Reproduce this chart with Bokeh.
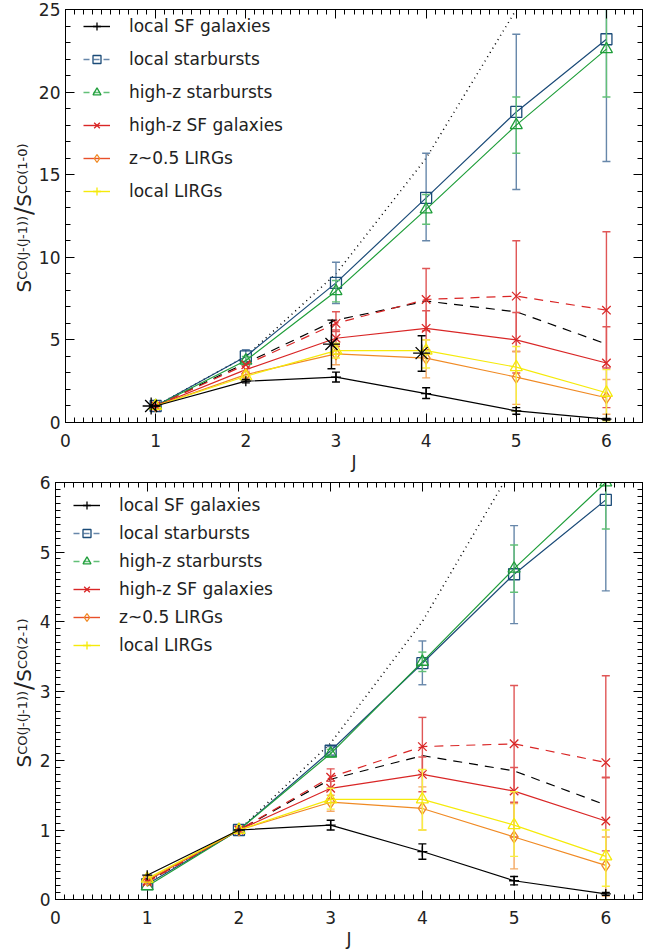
import math
from bokeh.plotting import figure
from bokeh.models import (Range1d, SingleIntervalTicker, LinearAxis, Legend,
                          LegendItem, CustomJSTickFormatter)
from bokeh.core.properties import value
from bokeh.layouts import column, row
from bokeh.embed import file_html
from bokeh.resources import INLINE

NAN = float("nan")
J = [1, 2, 3, 4, 5, 6]
J_STAR = [0.95, 2.95, 3.95]

# ---------------- top panel: S_CO(J-(J-1)) / S_CO(1-0) ----------------
thermal_10 = [1, 4, 9, 16, 25, 36]
model_10 = [1.0, 3.6, 6.2, 7.35, 6.7, 4.75]

local_sf_10 = [1.0, 2.5, 2.75, 1.75, 0.7, 0.2]
local_sf_10_lo = [NAN, 2.4, 2.45, 1.45, 0.5, 0.15]
local_sf_10_hi = [NAN, 2.6, 3.05, 2.1, 0.9, 0.25]

local_sb_10 = [1.0, 4.0, 8.45, 13.6, 18.8, 23.2]
local_sb_10_lo = [NAN, 3.7, 7.2, 11.0, 14.1, 15.8]
local_sb_10_hi = [NAN, 4.4, 9.7, 16.3, 23.5, 30.0]

highz_sb_10 = [1.0, 3.75, 7.95, 12.9, 18.0, 22.6]
highz_sb_10_lo = [NAN, 3.5, 7.3, 12.0, 16.3, 19.7]
highz_sb_10_hi = [NAN, 4.0, 8.6, 13.8, 19.7, 30.0]

highz_sf_10 = [1.0, 3.2, 5.1, 5.7, 5.0, 3.6]
highz_sf_10_lo = [NAN, NAN, 4.6, 4.4, 3.0, 0.9]
highz_sf_10_hi = [NAN, NAN, 5.6, 6.76, 6.66, 5.8]

highz_sf2_10 = [1.0, 3.5, 6.0, 7.45, 7.65, 6.8]
highz_sf2_10_lo = [NAN, NAN, 5.5, 5.56, 4.3, 3.3]
highz_sf2_10_hi = [NAN, NAN, 6.7, 9.32, 11.0, 11.55]

lirg05_10 = [1.0, 2.9, 4.15, 3.9, 2.75, 1.5]
lirg05_10_lo = [NAN, 2.7, 3.5, 2.7, 1.1, 0.5]
lirg05_10_hi = [NAN, 3.1, 4.7, 5.0, 4.3, 2.6]

local_lirg_10 = [1.0, 2.8, 4.35, 4.35, 3.35, 1.8]
local_lirg_10_lo = [NAN, NAN, 3.9, 3.3, 0.7, 0.1]
local_lirg_10_hi = [NAN, NAN, 4.8, 5.0, 4.6, 3.2]

star_10 = [1.0, 4.75, 4.2]
star_10_lo = [NAN, 3.25, 3.1]
star_10_hi = [NAN, 6.2, 5.25]

# ---------------- bottom panel: S_CO(J-(J-1)) / S_CO(2-1) ----------------
thermal_21 = [0.25, 1, 2.25, 4, 6.25, 9]
model_21 = [0.26, 1.0, 1.73, 2.07, 1.85, 1.36]

local_sf_21 = [0.35, 1.0, 1.07, 0.69, 0.27, 0.08]
local_sf_21_lo = [NAN, NAN, 1.0, 0.58, 0.21, 0.06]
local_sf_21_hi = [NAN, NAN, 1.14, 0.8, 0.33, 0.1]

local_sb_21 = [0.22, 1.0, 2.14, 3.4, 4.68, 5.75]
local_sb_21_lo = [NAN, NAN, 2.08, 3.09, 3.97, 4.44]
local_sb_21_hi = [NAN, NAN, 2.2, 3.72, 5.38, 7.0]

highz_sb_21 = [0.19, 1.0, 2.1, 3.42, 4.76, 6.0]
highz_sb_21_lo = [NAN, NAN, 2.05, 3.28, 4.42, 5.33]
highz_sb_21_hi = [NAN, NAN, 2.16, 3.56, 5.1, 6.7]

highz_sf_21 = [0.27, 1.0, 1.6, 1.8, 1.56, 1.13]
highz_sf_21_lo = [NAN, NAN, 1.45, 1.55, 0.9, 0.7]
highz_sf_21_hi = [NAN, NAN, 1.7, 2.05, 1.9, 1.75]

highz_sf2_21 = [0.25, 1.0, 1.76, 2.2, 2.24, 1.97]
highz_sf2_21_lo = [NAN, NAN, 1.6, 1.8, 1.4, 1.76]
highz_sf2_21_hi = [NAN, NAN, 1.88, 2.62, 3.08, 3.22]

lirg05_21 = [0.28, 1.0, 1.4, 1.31, 0.9, 0.49]
lirg05_21_lo = [NAN, NAN, 1.27, 1.0, 0.44, 0.05]
lirg05_21_hi = [NAN, NAN, 1.5, 1.62, 1.38, 0.9]

local_lirg_21 = [0.3, 1.0, 1.44, 1.44, 1.07, 0.62]
local_lirg_21_lo = [NAN, NAN, 1.3, 1.0, 0.62, 0.19]
local_lirg_21_hi = [NAN, NAN, 1.6, 1.87, 1.55, 1.0]

legend_labels = ["local SF galaxies", "local starbursts", "high-z starbursts",
                 "high-z SF galaxies", "z~0.5 LIRGs", "local LIRGs"]

BLACK = "#000000"
BLUE = "#1b4b78"
GREEN = "#1f9e3a"
RED = "#d92626"
ORANGE = "#f08a24"
YELLOW = "#f5ea0a"
BLUE_E = "#6787aa"
GREEN_E = "#62c077"
RED_E = "#e05656"
ORANGE_E = "#f4a862"
YELLOW_E = "#f8ef40"
FONT = "DejaVu Sans"
TXT = "#222222"


def series(p, x, y, lo, hi, color, ecolor, marker, size, dash="solid", line=True):
    p.segment(x0=x, y0=lo, x1=x, y1=hi, line_color=ecolor, line_width=1.4)
    p.scatter(x, lo, marker="dash", size=8, line_color=ecolor, line_width=1.4)
    p.scatter(x, hi, marker="dash", size=8, line_color=ecolor, line_width=1.4)
    if line:
        p.line(x, y, line_color=color, line_width=1.2, line_dash=dash)
    p.scatter(x, y, marker=marker, size=size, line_color=color,
              fill_color=None, line_width=1.3)


def style_axes(p, yint, yminor):
    xt = SingleIntervalTicker(interval=1, num_minor_ticks=10)
    yt = SingleIntervalTicker(interval=yint, num_minor_ticks=yminor)
    p.xaxis.ticker = xt
    p.yaxis.ticker = yt
    for ax in (p.xaxis[0], p.yaxis[0]):
        ax.major_tick_in = 9
        ax.major_tick_out = 0
        ax.minor_tick_in = 5
        ax.minor_tick_out = 0
        ax.axis_line_color = "black"
        ax.major_tick_line_color = "black"
        ax.minor_tick_line_color = "black"
        ax.major_label_text_font = FONT
        ax.major_label_text_font_size = "17px"
        ax.major_label_text_color = TXT
    p.xaxis.major_label_standoff = 11
    p.yaxis.major_label_standoff = 5
    p.xaxis.axis_label = "J"
    p.xaxis.axis_label_text_font = FONT
    p.xaxis.axis_label_text_font_size = "17px"
    p.xaxis.axis_label_text_font_style = "normal"
    p.xaxis.axis_label_text_color = TXT
    p.xaxis.axis_label_standoff = 2
    for side, tk in (("above", xt), ("right", yt)):
        ax = LinearAxis(ticker=tk, formatter=CustomJSTickFormatter(code="return ''"),
                        major_tick_in=9, major_tick_out=0, minor_tick_in=5,
                        minor_tick_out=0, major_label_standoff=0,
                        axis_line_color="black")
        p.add_layout(ax, side)


def add_legend(p):
    specs = [(BLACK, "cross", "solid", 12), (BLUE, "square", "6 4", 11),
             (GREEN, "triangle", "6 4", 12), (RED, "x", "solid", 13),
             (ORANGE, "diamond", "solid", 12), (YELLOW, "cross", "solid", 12)]
    lcol = [BLACK, BLUE_E, GREEN_E, RED, "#e8502a", YELLOW]
    items = []
    for lab, (c, m, d, s), lc in zip(legend_labels, specs, lcol):
        r1 = p.line([-10, -9], [-10, -9], line_color=lc, line_dash=d, line_width=1.4)
        r2 = p.scatter([-10], [-10], marker=m, size=s, line_color=c,
                       fill_color=None, line_width=1.3)
        items.append(LegendItem(label=lab, renderers=[r1, r2]))
    return items


def label_fig(width, height, frame_top, frame_bottom, y_start, denom):
    # y range given in the canvas' own pixel rows (downwards), matching the
    # frame of the neighbouring plot, so the label pieces keep their spacing
    f = figure(width=width, height=height, output_backend="svg",
               toolbar_location=None, x_range=Range1d(0, width),
               y_range=Range1d(frame_bottom, frame_top), min_border=0,
               min_border_top=frame_top, min_border_bottom=height - frame_bottom,
               x_axis_type=None, y_axis_type=None)
    f.grid.visible = False
    f.outline_line_color = None
    pieces = [("S", 20, 0, 12.7), ("CO(J-(J-1))", 13, -1, 64.9),
              ("/", 24, 0, 8.1), ("S", 20, 0, 12.7), (denom, 13, -1, 50.7)]
    y = y_start
    for txt, fs, dx, w in pieces:
        f.text(x=[23 + dx], y=[y], text=[txt], angle=math.pi / 2,
               text_font=value(FONT), text_font_size=value(f"{fs}px"),
               text_color=TXT, text_align="left", text_baseline="alphabetic")
        y -= w
    return f


def make_panel(width, height, ymax, yint, yminor, left, bottom, top, data,
               stars, leg_xy, leg_spacing):
    p = figure(width=width, height=height, output_backend="svg",
               toolbar_location=None, x_range=Range1d(0, 6.4),
               y_range=Range1d(0, ymax), min_border_left=left,
               min_border_right=8, min_border_top=top,
               min_border_bottom=bottom)
    p.grid.visible = False
    p.outline_line_color = "black"
    style_axes(p, yint, yminor)
    (thermal, model, sf, sb, hsb, hsf, hsf2, l05, ll) = data
    p.line(J, thermal, line_color=BLACK, line_dash="1 4", line_width=1.5)
    p.line(J, model, line_color=BLACK, line_dash="9 7", line_width=1.2)
    series(p, J, sb[0], sb[1], sb[2], BLUE, BLUE_E, "square", 11)
    series(p, J, hsb[0], hsb[1], hsb[2], GREEN, GREEN_E, "triangle", 12)
    series(p, J, hsf2[0], hsf2[1], hsf2[2], RED, RED_E, "x", 12, dash="9 7")
    series(p, J, hsf[0], hsf[1], hsf[2], RED, RED_E, "x", 12)
    series(p, J, l05[0], l05[1], l05[2], ORANGE, ORANGE_E, "diamond", 12)
    series(p, J, ll[0], ll[1], ll[2], YELLOW, YELLOW_E, "triangle", 12)
    series(p, J, sf[0], sf[1], sf[2], BLACK, BLACK, "cross", 10)
    if stars is not None:
        series(p, J_STAR, stars[0], stars[1], stars[2], BLACK, BLACK,
               "asterisk", 17, line=False)
    items = add_legend(p)
    leg = Legend(items=items, location=leg_xy, padding=0, margin=0,
                 spacing=leg_spacing, glyph_width=27, glyph_height=20,
                 label_height=20, label_standoff=19,
                 label_text_font=FONT, label_text_font_size="17px",
                 label_text_color=TXT, border_line_color=None,
                 background_fill_alpha=0)
    p.add_layout(leg)
    return p


TOP_H = 474
BOT_H = 477
TOP_LW = 35
BOT_LW = 36
BOT_TOP = 8

top = make_panel(
    650 - TOP_LW, TOP_H, 25, 5, 5, 65 - TOP_LW, 52, 9,
    (thermal_10, model_10,
     (local_sf_10, local_sf_10_lo, local_sf_10_hi),
     (local_sb_10, local_sb_10_lo, local_sb_10_hi),
     (highz_sb_10, highz_sb_10_lo, highz_sb_10_hi),
     (highz_sf_10, highz_sf_10_lo, highz_sf_10_hi),
     (highz_sf2_10, highz_sf2_10_lo, highz_sf2_10_hi),
     (lirg05_10, lirg05_10_lo, lirg05_10_hi),
     (local_lirg_10, local_lirg_10_lo, local_lirg_10_hi)),
    (star_10, star_10_lo, star_10_hi),
    (18, 221), 13)

bottom = make_panel(
    650 - BOT_LW, BOT_H, 6, 1, 10, 55 - BOT_LW, 52, BOT_TOP,
    (thermal_21, model_21,
     (local_sf_21, local_sf_21_lo, local_sf_21_hi),
     (local_sb_21, local_sb_21_lo, local_sb_21_hi),
     (highz_sb_21, highz_sb_21_lo, highz_sb_21_hi),
     (highz_sf_21, highz_sf_21_lo, highz_sf_21_hi),
     (highz_sf2_21, highz_sf2_21_lo, highz_sf2_21_hi),
     (lirg05_21, lirg05_21_lo, lirg05_21_hi),
     (local_lirg_21, local_lirg_21_lo, local_lirg_21_hi)),
    None,
    (18, 244), 8)

layout = column(
    row(label_fig(TOP_LW, TOP_H, 9, 422, 292, "CO(1-0)"), top, spacing=0),
    row(label_fig(BOT_LW, BOT_H, BOT_TOP, 425, 293, "CO(2-1)"), bottom, spacing=0),
    spacing=0)
open("out.html", "w").write(file_html(layout, INLINE))
